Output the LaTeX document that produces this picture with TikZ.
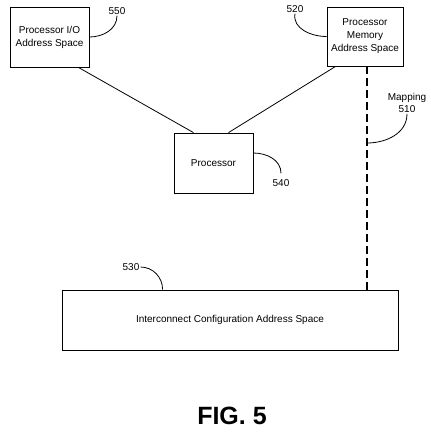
\documentclass[tikz,border=0pt]{standalone}
\usepackage{fontspec}
\setmainfont{Liberation Sans}
\usepackage{tikz}
\usetikzlibrary{positioning}
\tikzset{ %
  ,every node/.style={font=\fontsize{10}{13}\selectfont}
  ,box/.style={draw, rectangle, line width=0.8pt, align=center, inner sep=2pt}
  ,lbl/.style={inner sep=1pt, align=center, font=\fontsize{10}{12}\selectfont}
  ,lead/.style={line width=0.8pt}
  ,link/.style={line width=0.8pt}
  ,mapline/.style={line width=1.4pt, dash pattern=on 8pt off 4pt}
}

\begin{document}
\begin{tikzpicture}[x=1pt, y=-1pt]
      \useasboundingbox (0,0) rectangle (431,432);
      \draw
      node[box, minimum width=79pt, minimum height=60pt] (io) at (49.5,37) {Processor I/O\\Address Space}
      node[box, minimum width=76pt, minimum height=59pt] (mem) at (365,36.5) {Processor\\Memory\\Address Space}
      node[box, minimum width=79pt, minimum height=60pt] (proc) at (213.5,163) {Processor}
      node[box, minimum width=336pt, minimum height=60pt] (ic) at (230,320) {Interconnect Configuration Address Space};
      \draw
      node[lbl] (l550) at (117,11) {550}
      node[lbl] (l520) at (295,9) {520}
      node[lbl] (l540) at (281,183) {540}
      node[lbl] (l510) at (407,103) {Mapping\\510}
      node[lbl] (l530) at (131,267) {530};
      \node[font=\fontsize{25}{30}\selectfont\bfseries] (fig) at (232,416) {FIG. 5};
      % links to the processor
      \draw [link] ([xshift=-11pt]io.south east) -- ([xshift=-20pt]proc.north);
      \draw [link] ([xshift=15pt]proc.north) -- ([xshift=9pt]mem.south west);
      % mapping
      \draw [mapline] ([xshift=2pt]mem.south) -- ([xshift=2pt]mem.south |- ic.north);
      % leaders
      \draw [lead] (l550.south) to[out=-90, in=0] (io.east);
      \draw [lead] (l520.south) to[out=-100, in=180] (mem.west);
      \draw [lead] ([yshift=10pt]proc.east) to[out=0, in=90] ([yshift=5pt]l540.north);
      \draw [lead] (l510.south) to[out=-90, in=0] ([xshift=2pt]mem.south |- 0,143);
      \draw [lead] (l530.east) to[out=0, in=90] ([xshift=101pt]ic.north west);
    \end{tikzpicture}
\end{document}
